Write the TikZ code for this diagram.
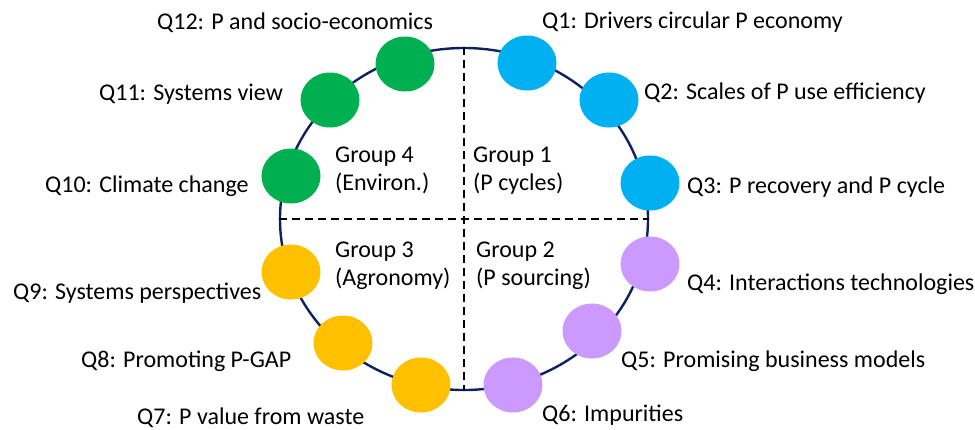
\documentclass[tikz,border=0pt]{standalone}
\usepackage{fontspec}
\setmainfont{Carlito}
\usetikzlibrary{shapes.geometric}
\definecolor{ringblue}{HTML}{0F2260}
\definecolor{qgreen}{HTML}{00B050}
\definecolor{qblue}{HTML}{00B0F0}
\definecolor{qpurple}{HTML}{CC99FF}
\definecolor{qyellow}{HTML}{FFC000}
\begin{document}
\begin{tikzpicture}[x=1pt,y=-1pt,
  dot/.style={ellipse, minimum width=59pt, minimum height=55pt, inner sep=0pt},
  qlabel/.style={anchor=base west, inner sep=0pt, font=\fontsize{24}{28}\selectfont},
  grouplabel/.style={anchor=base west, inner sep=0pt, align=left, font=\fontsize{24}{28}\selectfont},
  divider/.style={black, line width=1.3pt, dash pattern=on 8pt off 5pt}]
\useasboundingbox (0,0) rectangle (975,429);
% ring
\node[ellipse, draw=ringblue, line width=2.4pt, minimum width=368pt, minimum height=342pt, inner sep=0pt] (ring) at (464,219) {};
\draw[divider] (ring.north) -- (ring.south);
\draw[divider] (ring.west) -- (ring.east);
% group labels (base = last line)
\node[grouplabel] (g4) at (335,190) {Group 4\\(Environ.)};
\node[grouplabel] (g1) at (473,190) {Group 1\\(P cycles)};
\node[grouplabel] (g3) at (335,285) {Group 3\\(Agronomy)};
\node[grouplabel] (g2) at (476,285) {Group 2\\(P sourcing)};
% dots
\node[dot, fill=qblue] (d1) at (527,63) {};
\node[dot, fill=qblue] (d2) at (609,100) {};
\node[dot, fill=qblue] (d3) at (650,183) {};
\node[dot, fill=qpurple] (d4) at (650,264) {};
\node[dot, fill=qpurple] (d5) at (592,331) {};
\node[dot, fill=qpurple] (d6) at (513,385) {};
\node[dot, fill=qyellow] (d7) at (421,385) {};
\node[dot, fill=qyellow] (d8) at (343,343) {};
\node[dot, fill=qyellow] (d9) at (291,272) {};
\node[dot, fill=qgreen] (d10) at (291,176) {};
\node[dot, fill=qgreen] (d11) at (330,100) {};
\node[dot, fill=qgreen] (d12) at (405,64) {};
% labels
\node[qlabel] (q1) at (542,28.5) {Q1: Drivers circular P economy};
\node[qlabel] (q2) at (644,99.5) {Q2: Scales of P use efficiency};
\node[qlabel] (q3) at (687,193.5) {Q3: P recovery and P cycle};
\node[qlabel] (q4) at (687,290.5) {Q4: Interactions technologies};
\node[qlabel] (q5) at (621,367.5) {Q5: Promising business models};
\node[qlabel] (q6) at (542,421.5) {Q6: Impurities};
\node[qlabel] (q7) at (137,424) {Q7: P value from waste};
\node[qlabel] (q8) at (81,367.5) {Q8: Promoting P-GAP};
\node[qlabel] (q9) at (13,299.5) {Q9: Systems perspectives};
\node[qlabel] (q10) at (45,192.5) {Q10: Climate change};
\node[qlabel] (q11) at (99,100.5) {Q11: Systems view};
\node[qlabel] (q12) at (157,29.5) {Q12: P and socio-economics};
\end{tikzpicture}
\end{document}
